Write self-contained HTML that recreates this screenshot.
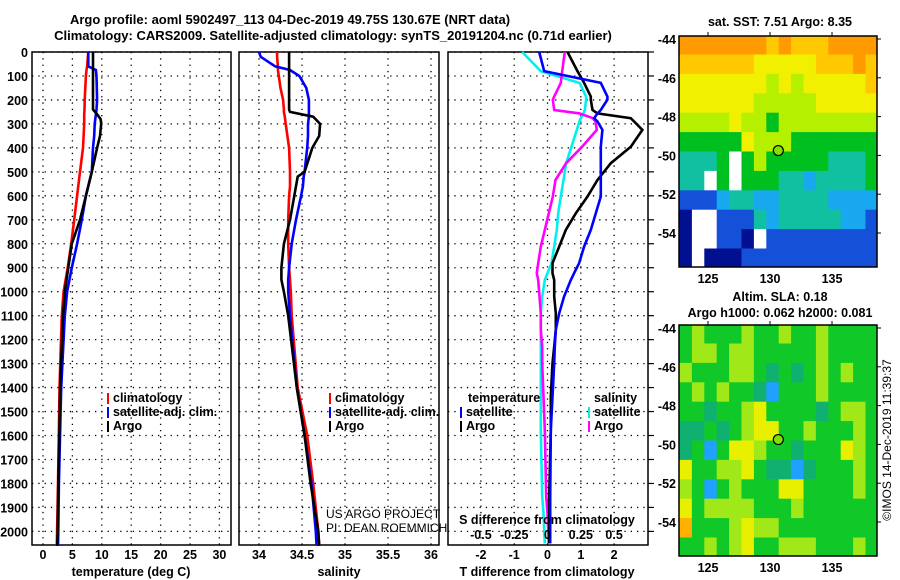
<!DOCTYPE html>
<html><head><meta charset="utf-8"><style>
body{margin:0;background:#fff;}
svg{display:block;font-family:"Liberation Sans",Arial,sans-serif;}
.b{font-weight:bold;font-size:13px;}
.t{font-weight:bold;font-size:12.5px;}
.n{font-weight:normal;font-size:12px;}
</style></head><body>
<svg id="c" width="900" height="580" viewBox="0 0 900 580">
<g id="g"></g>
</svg>
<script>
// ---------- data ----------
const depthT   = [0,60,75,100,200,240,260,280,300,350,400,500,600,700,800,900,1000,1100,1400,1500,1800,2000,2060];
const tArgo    = [8.5,8.5,8.5,8.5,8.5,8.5,9.2,9.8,9.9,9.7,9.2,8.3,7.3,6.3,4.9,4.3,3.7,3.4,2.9,2.85,2.6,2.5,2.4];
const tClim    = [7.7,7.5,7.4,7.3,7.1,7.05,7.0,7.0,7.0,6.9,6.8,6.3,5.8,5.3,4.8,4.2,3.5,3.2,2.8,2.75,2.55,2.4,2.35];
const tSat     = [7.7,7.7,9.0,9.1,9.2,9.1,9.0,8.9,8.8,8.7,8.5,8.3,7.3,6.6,5.8,4.9,4.1,3.7,3.1,3.0,2.7,2.6,2.55];
const depthS   = [0,20,60,75,100,150,200,240,250,270,300,350,400,500,520,560,600,700,800,900,950,1000,1100,1400,1600,1800,2000,2060];
const sArgo    = [34.35,34.35,34.35,34.35,34.35,34.35,34.35,34.35,34.36,34.63,34.71,34.70,34.62,34.53,34.45,34.43,34.41,34.36,34.29,34.26,34.26,34.29,34.34,34.44,34.53,34.60,34.69,34.70];
const sClim    = [34.21,34.21,34.22,34.22,34.23,34.25,34.28,34.29,34.29,34.30,34.31,34.33,34.35,34.36,34.36,34.36,34.35,34.34,34.34,34.35,34.36,34.37,34.38,34.45,34.56,34.63,34.69,34.70];
const sSat     = [34.0,34.02,34.19,34.36,34.47,34.55,34.58,34.58,34.58,34.58,34.57,34.57,34.56,34.53,34.52,34.51,34.49,34.43,34.38,34.35,34.34,34.34,34.36,34.44,34.53,34.61,34.66,34.67];
const depthD   = [0,80,129,186,199,242,256,276,290,325,395,464,534,603,673,742,812,881,923,951,1020,1090,1159,1229,1298,1438,1577,1855,1924,2050];
const dTArgo   = [0.6,0.9,1.1,1.3,1.3,1.35,1.5,2.5,2.6,2.85,2.5,1.9,1.5,1.2,0.85,0.55,0.35,0.15,0.15,0.2,0.2,0.25,0.25,0.2,0.15,0.1,0.1,0.05,0.05,0.05];
const dTSat    = [-0.25,-0.1,1.6,1.8,1.8,1.6,1.5,1.4,1.5,1.65,1.6,1.6,1.6,1.6,1.45,1.3,1.1,0.95,0.8,0.7,0.5,0.35,0.25,0.22,0.2,0.15,0.1,0.08,0.08,0.08];
const dSSat    = [-0.19,-0.05,0.24,0.29,0.29,0.28,0.27,0.25,0.24,0.22,0.18,0.14,0.12,0.1,0.08,0.07,0.05,0.03,0.0,-0.02,-0.04,-0.05,-0.05,-0.05,-0.05,-0.05,-0.05,-0.04,-0.03,-0.02];
const dSArgo   = [0.13,0.11,0.1,0.05,0.04,0.05,0.24,0.34,0.36,0.37,0.26,0.14,0.06,0.04,0.01,-0.02,-0.05,-0.07,-0.08,-0.07,-0.06,-0.05,-0.05,-0.04,-0.04,-0.03,-0.02,-0.01,0.0,0.01];
const depthTicks = [0,100,200,300,400,500,600,700,800,900,1000,1100,1200,1300,1400,1500,1600,1700,1800,1900,2000];
const tTicks = [0,5,10,15,20,25,30];
const sTicks = [34,34.5,35,35.5,36];
const dTTicks = [-2,-1,0,1,2];
const dSTicks = [-0.5,-0.25,0,0.25,0.5];
const lonTicks = [125,130,135];
const latTicks = [-44,-46,-48,-50,-52,-54];
const argoLon = 130.67, argoLat = -49.75;
const sstRows = ["9999999898889999","8888887777788898","7777777676777778","7777776666677777","6666766566666666","5555576665555555","4445056555554445","4405055544344445","2223443344443333","1002224344444332","1002210222222222","1011122222222222","1111112222112222"];
const slaRows = ["5655565565565555","5665665555565555","6555665454565655","5656554355565555","5545567555545665","4454567755655565","4535776554555765","7556675443455565","6535655577555565","7566665556555555","9555676655555555","5565675566655565","5555555556555555"];
const palette = ["#ffffff","#001090","#1450d8","#18a8f0","#10c0a0","#00c020","#b4f000","#f0f000","#ffc800","#ff9a00"];
const slaPalette = ["#ffffff","#001090","#1450d8","#20a0ff","#10b070","#10c828","#a0e818","#e8f000","#ffd000","#ffb000"];

// ---------- helpers ----------
const NS="http://www.w3.org/2000/svg";
const G=document.getElementById('g');
function el(tag,attrs,parent){const e=document.createElementNS(NS,tag);for(const k in attrs)e.setAttribute(k,attrs[k]);(parent||G).appendChild(e);return e;}
function txt(x,y,s,cls,anchor,parent){const e=el('text',{x:x,y:y,'text-anchor':anchor||'middle',class:cls||'t'},parent);e.textContent=s;return e;}
const yTop=52, yScale=0.2397, yBot=545;
const yD=d=>yTop+d*yScale;
function panel(name){
  const p=el('g',{});
  
  
  return p;
}
function grid(p,x0,x1,xs){
  xs.forEach(x=>{el('line',{x1:x,x2:x,y1:yTop,y2:yBot,stroke:'#000','stroke-width':1.3,'stroke-dasharray':'1.3 5'},p);});
  depthTicks.forEach(d=>{el('line',{x1:x0,x2:x1,y1:yD(d),y2:yD(d),stroke:'#000','stroke-width':1.3,'stroke-dasharray':'1.3 5'},p);});
  el('rect',{x:x0,y:yTop,width:x1-x0,height:yBot-yTop,fill:'none',stroke:'#000','stroke-width':1.5},p);
}
function line(p,xs,ds,fx,color,name){
  const pts=xs.map((v,i)=>fx(v).toFixed(1)+','+yD(ds[i]).toFixed(1)).join(' ');
  const l=el('polyline',{points:pts,fill:'none',stroke:color,'stroke-width':2.6},p);
  
  
}
function legend(p,x,y,items){
  items.forEach((it,i)=>{
    el('rect',{x:x,y:y+i*14-9,width:2,height:11,fill:it[1]},p);
    txt(x+6,y+i*14,it[0],'t','start',p);
  });
}

// titles
const t1=txt(290,24,'Argo profile: aoml 5902497_113 04-Dec-2019 49.75S 130.67E (NRT data)','b');

const t2=txt(333,40,'Climatology: CARS2009. Satellite-adjusted climatology: synTS_20191204.nc (0.71d earlier)','b');


// depth labels
const yl=panel('depth-axis-labels');
depthTicks.forEach(d=>txt(28,yD(d)+5,String(d),'t','end',yl));

// panel 1 temperature
const fT=v=>43+5.88*v;
const p1=panel('temperature-panel');
grid(p1,32,231,tTicks.map(fT));
line(p1,tClim,depthT,fT,'#ff0000','temp-climatology-line');
line(p1,tSat,depthT,fT,'#0000ff','temp-satellite-line');
line(p1,tArgo,depthT,fT,'#000000','temp-argo-line');
tTicks.forEach(v=>txt(fT(v),559,String(v),'t','middle',p1));
txt(131,576,'temperature (deg C)','t','middle',p1);
legend(p1,107,402,[['climatology','#ff0000'],['satellite-adj. clim.','#0000ff'],['Argo','#000']]);

// panel 2 salinity
const fS=v=>259+86*(v-34);
const p2=panel('salinity-panel');
grid(p2,239,439,sTicks.map(fS));
line(p2,sClim,depthS,fS,'#ff0000','sal-climatology-line');
line(p2,sSat,depthS,fS,'#0000ff','sal-satellite-line');
line(p2,sArgo,depthS,fS,'#000000','sal-argo-line');
sTicks.forEach(v=>txt(fS(v),559,String(v),'t','middle',p2));
txt(339,576,'salinity','t','middle',p2);
legend(p2,329,402,[['climatology','#ff0000'],['satellite-adj. clim.','#0000ff'],['Argo','#000']]);
txt(326,518,'US ARGO PROJECT','n','start',p2);
txt(326,532,'PI: DEAN ROEMMICH','n','start',p2);

// panel 3 differences
const fDT=v=>547.5+33.3*v;
const fDS=v=>547.5+133.2*v;
const p3=panel('difference-panel');
grid(p3,448,648,dTTicks.map(fDT));
depthTicks.forEach(d=>el('line',{x1:648,x2:654,y1:yD(d),y2:yD(d),stroke:'#000','stroke-width':1.2},p3));
line(p3,dSSat,depthD,fDS,'#00f0f0','sdiff-satellite-line');
line(p3,dSArgo,depthD,fDS,'#ff00ff','sdiff-argo-line');
line(p3,dTArgo,depthD,fDT,'#000000','tdiff-argo-line');
line(p3,dTSat,depthD,fDT,'#0000ff','tdiff-satellite-line');
txt(468,402,'temperature','t','start',p3);
txt(594,402,'salinity','t','start',p3);
legend(p3,460,416,[['satellite','#0000ff'],['Argo','#000']]);
legend(p3,588,416,[['satellite','#00f0f0'],['Argo','#ff00ff']]);
txt(547,524,'S difference from climatology','t','middle',p3);
dSTicks.forEach(v=>txt(fDS(v),539,String(v),'t','middle',p3));
dTTicks.forEach(v=>txt(fDT(v),559,String(v),'t','middle',p3));
txt(547,576,'T difference from climatology','t','middle',p3);

// maps
function map(rows,pal,y0,name){
  const m=panel(name);
  const fx=lon=>708+12.4*(lon-125), fy=lat=>y0+3+19.4*(-44-lat);
  const cl=el('clipPath',{id:'cp'+y0},m);el('rect',{x:679,y:y0,width:198,height:231},cl);
  const cg=el('g',{'clip-path':'url(#cp'+y0+')'},m);
  rows.forEach((r,i)=>{for(let j=0;j<r.length;j++){
    const lon=122.7+j, lat=-43.8-i;
    const c=el('rect',{x:fx(lon).toFixed(1),y:fy(lat).toFixed(1),width:12.9,height:19.9,fill:pal[+r[j]]},cg);
    
    
  }});
  el('rect',{x:679,y:y0,width:198,height:231,fill:'none',stroke:'#000','stroke-width':1.5},m);
  lonTicks.forEach(v=>{el('line',{x1:fx(v),x2:fx(v),y1:y0-4,y2:y0,stroke:'#000'},m);txt(fx(v),y0+247,String(v),'t','middle',m);});
  latTicks.forEach(v=>{el('line',{x1:877,x2:881,y1:fy(v),y2:fy(v),stroke:'#000'},m);txt(676,fy(v)+5,String(v),'t','end',m);});
  const dot=el('circle',{cx:fx(argoLon),cy:fy(argoLat),r:5,fill:'#80e000',stroke:'#000','stroke-width':1.2},m);
  
  
  return m;
}
map(sstRows,palette,36,'sst-map');
txt(780,26,'sat. SST: 7.51 Argo: 8.35','t');
map(slaRows,slaPalette,325,'sla-map');
txt(780,301,'Altim. SLA: 0.18','t');
txt(780,317,'Argo h1000: 0.062 h2000: 0.081','t');
const cp=txt(0,0,'©IMOS 14-Dec-2019 11:39:37','n','middle');
cp.setAttribute('transform','translate(891,440) rotate(-90)');


</script>
</body></html>
